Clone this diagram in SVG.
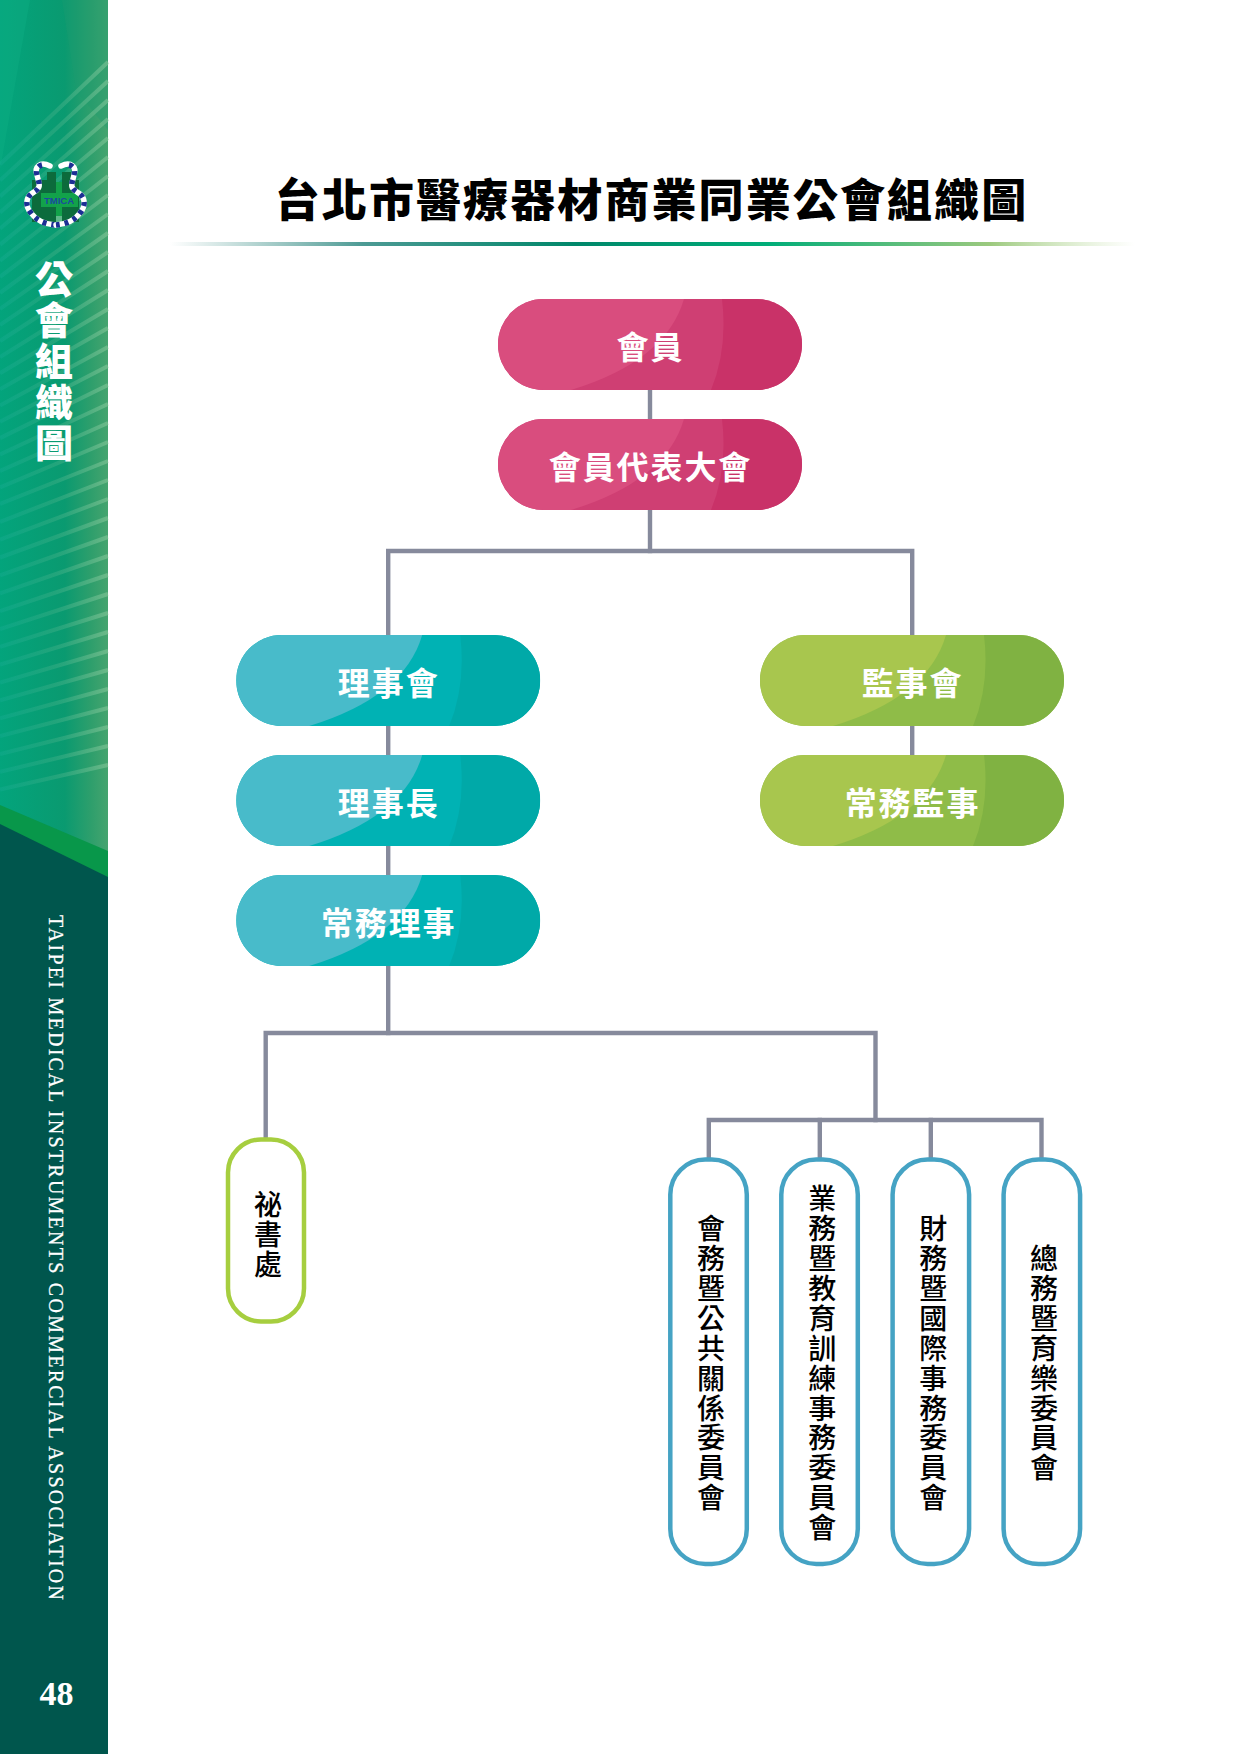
<svg xmlns="http://www.w3.org/2000/svg" width="1240" height="1754" viewBox="0 0 1240 1754">
<style>
.cjk{font-family:"Noto Sans CJK TC","Noto Sans CJK SC",sans-serif}
.pt{font-family:"Noto Sans CJK TC",sans-serif;font-weight:700;font-size:32px;letter-spacing:1.9px;fill:#fff;text-anchor:middle}
.vt{font-family:"Noto Sans CJK TC",sans-serif;font-weight:500;font-size:28px;letter-spacing:1.9px;fill:#000;text-anchor:middle;writing-mode:vertical-rl;text-orientation:upright}
.box{fill:#fff;stroke-width:4.5}
.conn{fill:none;stroke:#868a9c;stroke-width:4.4;stroke-linecap:square}
.stripe{stroke:url(#stripeG);stroke-width:4;fill:none}
.l{fill:var(--l)}.m{fill:var(--m)}.d{fill:var(--d)}
.pink{--l:#d94d7e;--m:#cf3f73;--d:#c93268}
.teal{--l:#48bbca;--m:#00b2b4;--d:#00a9a8}
.lime{--l:#a8c64e;--m:#8fbc48;--d:#80b242}
</style>
<defs>
<clipPath id="pillClip"><rect width="304" height="91" rx="45.5"/></clipPath>
<g id="pillArt" clip-path="url(#pillClip)">
<rect class="m" width="304" height="91"/>
<path class="d" d="M224 0Q230 50 213 91H304V0Z"/>
<path class="l" d="M0 0H186Q168 62 73 91H0Z"/>
</g>
<linearGradient id="side" x1="0" y1="0" x2="1" y2="0">
<stop offset="0" stop-color="#03a47c"/><stop offset=".6" stop-color="#0a9a70"/><stop offset=".85" stop-color="#2f9f6c"/><stop offset="1" stop-color="#46a46f"/>
</linearGradient>
<linearGradient id="stripeG" gradientUnits="userSpaceOnUse" x1="0" y1="0" x2="108" y2="0">
<stop offset="0" stop-color="#22b09f" stop-opacity=".25"/><stop offset=".5" stop-color="#5fbb93" stop-opacity=".28"/><stop offset="1" stop-color="#9ad3a8" stop-opacity=".45"/>
</linearGradient>
<linearGradient id="rule" x1="0" y1="0" x2="1" y2="0">
<stop offset="0" stop-color="#5a9f98" stop-opacity="0"/><stop offset=".2" stop-color="#4c9a94"/><stop offset=".42" stop-color="#00876a"/><stop offset=".62" stop-color="#00ad78"/><stop offset=".85" stop-color="#9cc97e"/><stop offset="1" stop-color="#c5e0a8" stop-opacity="0"/>
</linearGradient>
</defs>
<rect width="1240" height="1754" fill="#fff"/>

<g id="sidebar">
<rect width="108" height="880" fill="url(#side)"/>
<path d="M0 0H30L0 170Z" fill="#10b085" opacity=".4"/>
<path d="M62 0H108V130L76 90Z" fill="#1c9a70" opacity=".35"/>
<g class="stripe">
<path d="M108 62L0 164.3M108 81L0 180.4M108 100L0 196.4M108 119L0 212.5M108 138L0 228.5M108 157L0 244.6M108 176L0 260.7M108 195L0 276.8M108 214L0 292.8M108 233L0 308.9M108 252L0 324.9M108 271L0 341M108 290L0 357.1M108 309L0 373.2M108 328L0 389.2M108 347L0 405.4M108 366L0 421.8M108 385L0 438.1M108 404L0 454.5M108 423L0 471M108 442L0 487.3M108 461L0 504M108 480L0 521.8M108 499L0 539.7M108 518L0 557.5M108 537L0 575.3M108 556L0 593.3M108 575L0 611.1M108 594L0 629M108 613L0 646.8M108 632L0 664.7M108 651L0 682.5M108 670L0 700.3M108 689L0 718.3M108 708L0 736.1M108 727L0 754M108 746L0 771.8M108 765L0 789.6"/>
</g>
<path d="M0 805L108 851V880H0Z" fill="#08974a"/>
<path d="M0 824L108 877V1754H0Z" fill="#00564d"/>
<text class="cjk" x="54" y="362" font-size="38" font-weight="900" letter-spacing="3" fill="#fff" text-anchor="middle" style="writing-mode:vertical-rl;text-orientation:upright">公會組織圖</text>
<text transform="translate(49 915) rotate(90)" font-family="'Liberation Serif',serif" font-size="20" fill="#fff" stroke="#fff" stroke-width=".25" textLength="685" lengthAdjust="spacing">TAIPEI MEDICAL INSTRUMENTS COMMERCIAL ASSOCIATION</text>
<text x="56.5" y="1705" font-family="'Liberation Serif',serif" font-size="34" font-weight="700" fill="#fff" text-anchor="middle">48</text>
</g>

<g id="logo">
<path d="M38 180H47V172H56V182H62V172H71V180H79V222H32V180Z" fill="#0c6b3c"/>
<rect x="56" y="182" width="6" height="34" fill="#12a24a"/>
<rect x="41" y="193" width="37" height="14" fill="#12a24a"/>
<rect x="56" y="216" width="6" height="8" fill="#5fb98a"/>
<path d="M50 166C40 161 34 167 37 175C39 184 42 187 34 192C25 197 25 206 31 213C36 220 44 224 55 225" fill="none" stroke="#fff" stroke-width="5.5" stroke-linecap="round"/>
<path d="M42 165C38 166 35 169 37 175C39 184 42 187 34 192C25 197 25 206 31 213C36 220 44 224 55 225" fill="none" stroke="#1b2f94" stroke-width="5.5" stroke-dasharray="4 5"/>
<path d="M61 166C71 161 77 167 74 175C72 184 69 187 77 192C86 197 86 206 80 213C75 220 67 224 56 225" fill="none" stroke="#fff" stroke-width="5.5" stroke-linecap="round"/>
<path d="M69 165C73 166 76 169 74 175C72 184 69 187 77 192C86 197 86 206 80 213C75 220 67 224 56 225" fill="none" stroke="#1b2f94" stroke-width="5.5" stroke-dasharray="4 5"/>
<text x="59" y="204" font-family="'Liberation Sans',sans-serif" font-size="9.5" font-weight="700" fill="#1a4aa0" text-anchor="middle">TMICA</text>
</g>

<g id="title">
<text class="cjk" x="651.5" y="217" font-size="45" font-weight="900" letter-spacing="2.1" fill="#000" text-anchor="middle">台北市醫療器材商業同業公會組織圖</text>
<rect x="170" y="242" width="965" height="4" fill="url(#rule)"/>
</g>

<g id="connectors" class="conn">
<path d="M650 390V419"/>
<path d="M650 510V551"/>
<path d="M388.2 635V551H912.2V635"/>
<path d="M388.2 726V755"/>
<path d="M388.2 846V875"/>
<path d="M912.2 726V755"/>
<path d="M388.2 966V1033"/>
<path d="M265.7 1137V1033H875.5V1120"/>
<path d="M708.8 1158V1120H1041.5V1158"/>
<path d="M819.8 1120V1158"/>
<path d="M930.8 1120V1158"/>
</g>

<g id="n-member" class="pink" transform="translate(498 299)"><use href="#pillArt"/><text class="pt" x="152.5" y="59.5">會員</text></g>
<g id="n-delegates" class="pink" transform="translate(498 419)"><use href="#pillArt"/><text class="pt" x="152.5" y="59.5">會員代表大會</text></g>
<g id="n-board" class="teal" transform="translate(236.2 635)"><use href="#pillArt"/><text class="pt" x="152.5" y="59.5">理事會</text></g>
<g id="n-chair" class="teal" transform="translate(236.2 755)"><use href="#pillArt"/><text class="pt" x="152.5" y="59.5">理事長</text></g>
<g id="n-standing" class="teal" transform="translate(236.2 875)"><use href="#pillArt"/><text class="pt" x="152.5" y="59.5">常務理事</text></g>
<g id="n-supervisors" class="lime" transform="translate(760 635)"><use href="#pillArt"/><text class="pt" x="152.5" y="59.5">監事會</text></g>
<g id="n-standing-sup" class="lime" transform="translate(760 755)"><use href="#pillArt"/><text class="pt" x="152.5" y="59.5">常務監事</text></g>

<g id="n-secretariat"><rect class="box" x="228" y="1139.5" width="76" height="182" rx="33" stroke="#a6ce3f"/><text class="vt" x="268" y="1235">祕書處</text></g>
<g id="n-c1"><rect class="box" x="670.3" y="1159.6" width="76.5" height="404.4" rx="35" stroke="#45a3c4"/><text class="vt" x="711" y="1364">會務暨公共關係委員會</text></g>
<g id="n-c2"><rect class="box" x="781.3" y="1159.6" width="76.5" height="404.4" rx="35" stroke="#45a3c4"/><text class="vt" x="822.3" y="1364">業務暨教育訓練事務委員會</text></g>
<g id="n-c3"><rect class="box" x="892.6" y="1159.6" width="76.5" height="404.4" rx="35" stroke="#45a3c4"/><text class="vt" x="933.3" y="1364">財務暨國際事務委員會</text></g>
<g id="n-c4"><rect class="box" x="1003.6" y="1159.6" width="76.5" height="404.4" rx="35" stroke="#45a3c4"/><text class="vt" x="1044" y="1364">總務暨育樂委員會</text></g>
</svg>
